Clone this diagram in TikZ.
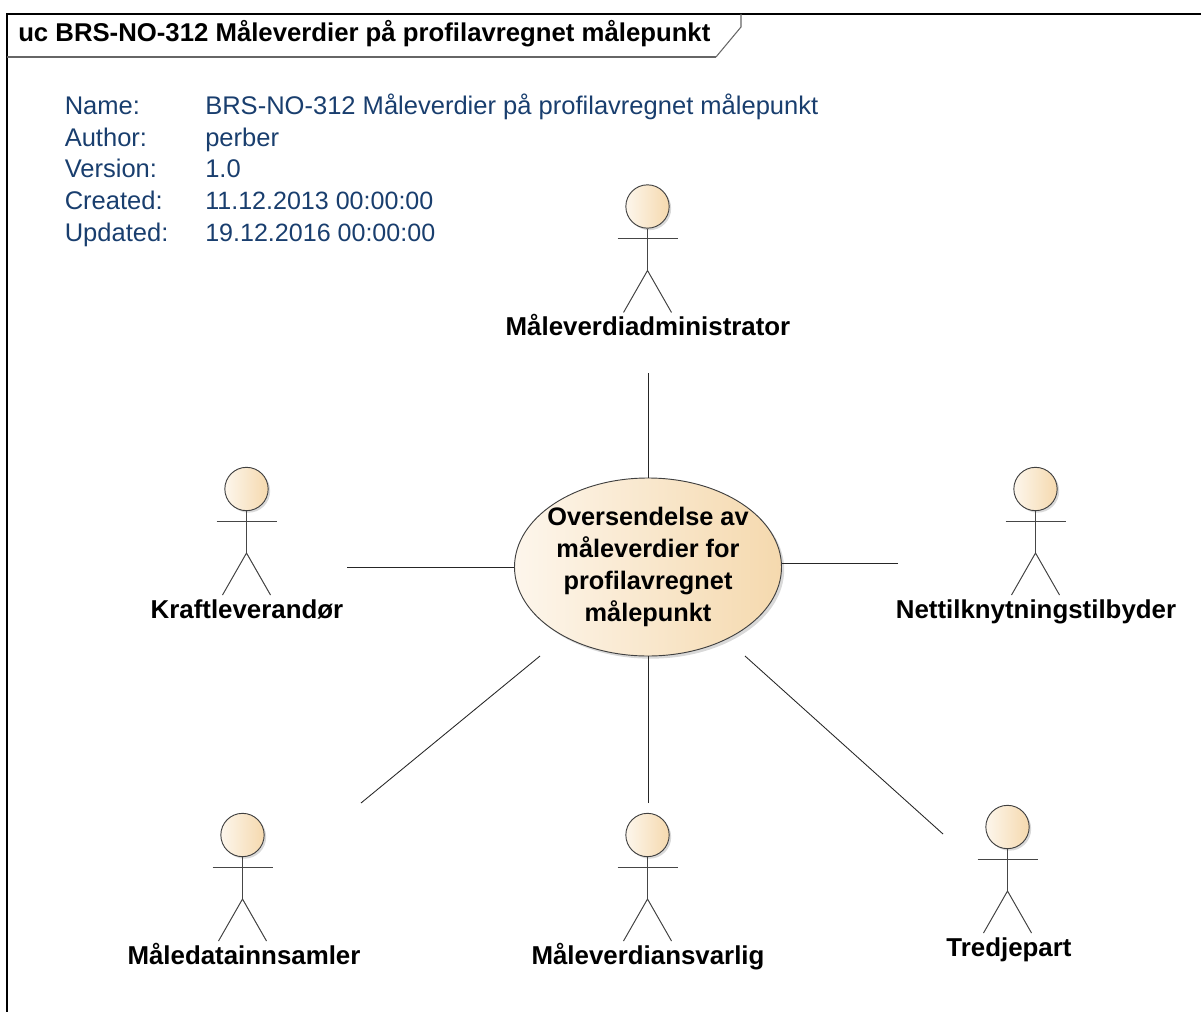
\documentclass[tikz,border=0pt]{standalone}
\usepackage{fontspec}
\setmainfont{Liberation Sans}
\usetikzlibrary{positioning,shadows,shapes.geometric}
\definecolor{metablue}{RGB}{25,62,110}
\definecolor{fillleft}{RGB}{253,246,236}
\definecolor{fillright}{RGB}{245,217,174}
\definecolor{limbgray}{RGB}{70,70,70}
\newcommand{\datefont}{\fontsize{18.8}{23}\selectfont}
\tikzset{
  uc/.style={ellipse, inner sep=-20pt, minimum width=200.25pt, minimum height=133.5pt, draw=black!75, line width=.7pt, left color=fillleft, right color=fillright, drop shadow={shadow xshift=2pt, shadow yshift=-2pt, opacity=.3}, align=center, font=\fontsize{19}{23.8}\selectfont\bfseries},
  head/.style={circle, inner sep=0pt, minimum size=32.5pt, draw=black!75, line width=.7pt, left color=fillleft, right color=fillright, drop shadow={shadow xshift=1.5pt, shadow yshift=-1.5pt, opacity=.3}},
  limb/.style={draw=limbgray, line width=.75pt},
  conn/.style={draw=black!85, line width=.65pt},
  lbl/.style={anchor=base, inner sep=0pt, font=\fontsize{19.4}{23}\selectfont\bfseries},
  meta/.style={anchor=base west, inner sep=0pt, text=metablue, font=\fontsize{19.15}{23}\selectfont}
}
\begin{document}
\begin{tikzpicture}[x=.75pt, y=-.75pt]
\useasboundingbox (0,0) rectangle (1201,1012);
% frame
\coordinate (frametl) at (7,14);
\coordinate (framebl) at (7,1012);
\coordinate (frametr) at (1201,14);
\coordinate (tabtop) at (741,14);
\coordinate (tabcut) at (741,27);
\coordinate (tabfoot) at (716,57);
\coordinate (tableft) at (7,57);
\draw[black, line width=.8pt] (framebl) -- (frametl) -- (frametr);
\draw[black!60, line width=.8pt] (tabtop) -- (tabcut) -- (tabfoot);
\draw[black!60, line width=1.1pt] (tabfoot) -- (tableft);
\node[anchor=base west, inner sep=0pt, font=\fontsize{19.3}{23}\selectfont\bfseries] (title) at (18,42) {uc BRS-NO-312 Måleverdier på profilavregnet målepunkt};
% meta data
\foreach \key/\val/\y in {Name:/BRS-NO-312 Måleverdier på profilavregnet målepunkt/115, Author:/perber/147, Version:/1.0/178, Created:/\datefont 11.12.2013 00:00:00/210, Updated:/\datefont 19.12.2016 00:00:00/242}{
  \node[meta] (key\y) at (64.5,\y) {\key};
  \node[meta] (val\y) at (205,\y) {\val};
}
% use case
\node[uc] (case) at (648,567) {Oversendelse av\\måleverdier for\\profilavregnet\\målepunkt};
% actors
\foreach \name/\x/\y/\lx/\txt in {admin/647.5/206.5/648/Måleverdiadministrator, kraft/246.5/489/247/Kraftleverandør, nett/1035.5/489/1036/Nettilknytningstilbyder, maledata/242.5/835/244/Måledatainnsamler, ansvarlig/647.5/835/648/Måleverdiansvarlig, tredje/1007.5/827/1009/Tredjepart}{
  \node[head] (\name) at (\x,\y) {};
  \coordinate (\name arml) at (\x-30,\y+32);
  \coordinate (\name armr) at (\x+30,\y+32);
  \coordinate (\name hip) at (\x,\y+64);
  \coordinate (\name footl) at (\x-24,\y+106);
  \coordinate (\name footr) at (\x+24,\y+106);
  \node[lbl] (\name lbl) at (\lx,\y+129) {\txt};
  \draw[limb] (\name.south) -- (\name hip);
  \draw[limb] (\name arml) -- (\name armr);
  \draw[limb] (\name footl) -- (\name hip) -- (\name footr);
}
% connectors
\coordinate (adminend) at (648,373);
\coordinate (kraftend) at (347,567);
\coordinate (nettend) at (898,563);
\coordinate (ansvarligend) at (648,803);
\coordinate (maledataend) at (361,803);
\coordinate (maledatastart) at (540,656);
\coordinate (tredjeend) at (943,834);
\coordinate (tredjestart) at (745,656);
\draw[conn] (adminend) -- (case.north);
\draw[conn] (kraftend) -- (case.west);
\draw[conn] (nettend) -- (nettend -| case.east);
\draw[conn] (ansvarligend) -- (case.south);
\draw[conn] (maledataend) -- (maledatastart);
\draw[conn] (tredjeend) -- (tredjestart);
\end{tikzpicture}
\end{document}
